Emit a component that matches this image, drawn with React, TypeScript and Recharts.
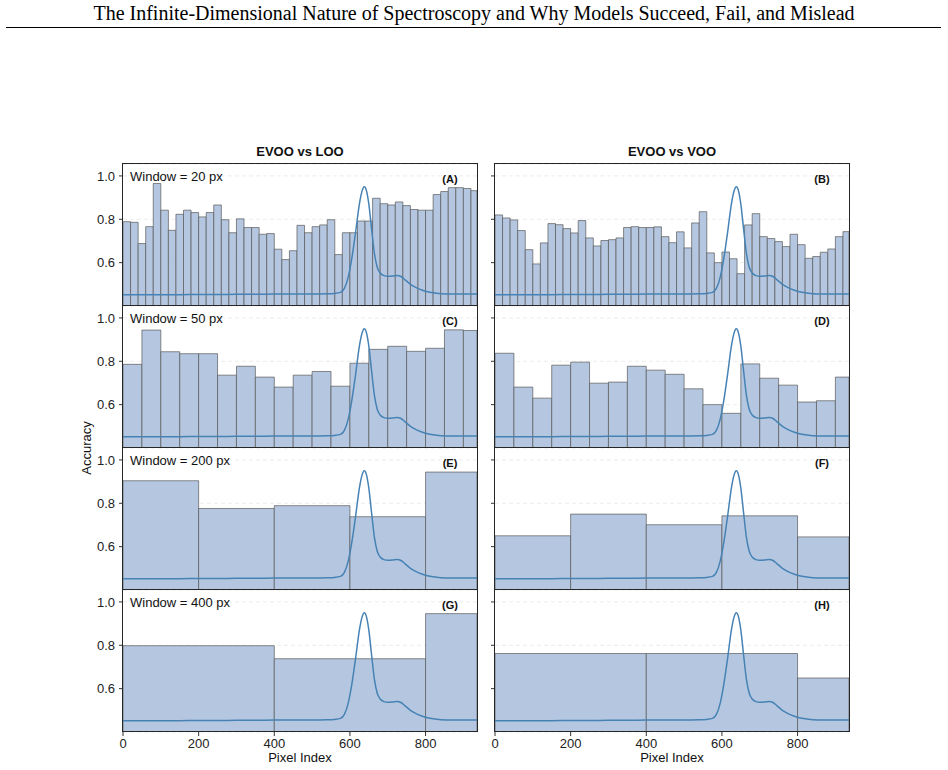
import React from 'react';
import { ComposedChart, Line, XAxis, YAxis, CartesianGrid, ReferenceArea } from 'recharts';

// detector width in pixels and the window sizes compared row by row
const PIXEL_COUNT = 936;
const windowSizes = [20, 50, 200, 400];
const comparisons = ['EVOO vs LOO', 'EVOO vs VOO'];
const panelLetters = [['A', 'B'], ['C', 'D'], ['E', 'F'], ['G', 'H']];
const xTicks = [0, 200, 400, 600, 800];
const yTicks = [0.6, 0.8, 1.0];
const Y_DOMAIN: [number, number] = [0.4, 1.055];

// windowed classification accuracy, EVOO vs LOO
const looWin20 = [
  0.789, 0.786, 0.688, 0.766, 0.965, 0.842, 0.749, 0.823, 0.842, 0.831,
  0.811, 0.831, 0.866, 0.798, 0.738, 0.802, 0.762, 0.762, 0.731, 0.734,
  0.662, 0.614, 0.655, 0.772, 0.738, 0.766, 0.774, 0.798, 0.637, 0.738,
  0.738, 0.792, 0.792, 0.897, 0.872, 0.866, 0.880, 0.863, 0.845, 0.842,
  0.842, 0.914, 0.928, 0.946, 0.946, 0.942, 0.932,
];
const looWin50 = [
  0.786, 0.944, 0.844, 0.835, 0.835, 0.736, 0.777, 0.727, 0.681, 0.736,
  0.753, 0.685, 0.791, 0.855, 0.869, 0.846, 0.860, 0.945, 0.942,
];
const looWin200 = [0.904, 0.776, 0.789, 0.738, 0.944];
const looWin400 = [0.798, 0.738, 0.946];

// windowed classification accuracy, EVOO vs VOO
const vooWin20 = [
  0.820, 0.806, 0.797, 0.748, 0.660, 0.594, 0.691, 0.780, 0.775, 0.757,
  0.737, 0.794, 0.714, 0.677, 0.702, 0.706, 0.714, 0.762, 0.766, 0.762,
  0.762, 0.765, 0.720, 0.692, 0.742, 0.668, 0.783, 0.835, 0.645, 0.600,
  0.649, 0.618, 0.549, 0.774, 0.826, 0.720, 0.711, 0.697, 0.674, 0.731,
  0.683, 0.620, 0.628, 0.648, 0.663, 0.720, 0.743,
];
const vooWin50 = [
  0.837, 0.681, 0.630, 0.782, 0.796, 0.699, 0.704, 0.777, 0.759, 0.740,
  0.673, 0.600, 0.560, 0.788, 0.722, 0.690, 0.612, 0.618, 0.727,
];
const vooWin200 = [0.650, 0.750, 0.701, 0.742, 0.645];
const vooWin400 = [0.762, 0.762, 0.649];

// mean spectrum, rescaled onto the accuracy axis
const spectrumPixel = [
  0, 50, 100, 150, 200, 250, 300, 350, 400, 450, 500, 540, 560, 575, 585,
  595, 605, 615, 625, 632, 638, 644, 650, 657, 665, 672, 680, 690, 700, 712,
  725, 735, 745, 760, 775, 790, 805, 820, 840, 870, 900, 936,
];
const spectrumIntensity = [
  0.452, 0.452, 0.452, 0.452, 0.453, 0.453, 0.454, 0.454, 0.455, 0.455, 0.455, 0.456, 0.458, 0.463, 0.480,
  0.530, 0.620, 0.740, 0.870, 0.930, 0.950, 0.930, 0.870, 0.760, 0.640, 0.580, 0.552, 0.540, 0.537, 0.538,
  0.541, 0.536, 0.522, 0.500, 0.485, 0.474, 0.466, 0.461, 0.457, 0.455, 0.455, 0.455,
];

const accuracyGrid = [
  [looWin20, vooWin20],
  [looWin50, vooWin50],
  [looWin200, vooWin200],
  [looWin400, vooWin400],
];

const spectrum = spectrumPixel.map((px, i) => ({ px, value: spectrumIntensity[i] }));

const FONT = '"Liberation Sans", Arial, Helvetica, sans-serif';
const PLOT_W = 354;
const PLOT_H = 142;
const colLeft = [123, 495];
const rowTop = [164, 306, 448, 590];
const Y_AXIS_W = 50;
const TOP_PAD = 4;

interface PanelProps {
  accuracy: number[];
  windowSize: number;
  letter: string;
  row: number;
  col: number;
}

const Panel: React.FC<PanelProps> = ({ accuracy, windowSize, letter, row, col }) => {
  const bottomRow = row === rowTop.length - 1;
  const left = colLeft[col];
  const top = rowTop[row];
  const height = TOP_PAD + PLOT_H + (bottomRow ? 30 : 0);
  const tickStyle = { fill: '#222', fontSize: 13, fontFamily: FONT };

  return (
    <>
      <div style={{ position: 'absolute', left: left - Y_AXIS_W, top: top - TOP_PAD }}>
        <ComposedChart
          width={Y_AXIS_W + PLOT_W + 4}
          height={height}
          data={spectrum}
          margin={{ top: TOP_PAD, right: 4, left: 0, bottom: 0 }}
        >
          <CartesianGrid vertical={false} stroke="#ececec" strokeDasharray="4 3" />
          <XAxis
            dataKey="px"
            type="number"
            domain={[0, PIXEL_COUNT]}
            ticks={xTicks}
            allowDataOverflow
            hide={!bottomRow}
            height={30}
            axisLine={false}
            tickLine={{ stroke: '#333' }}
            tickSize={4}
            tickMargin={3}
            tick={tickStyle}
          />
          <YAxis
            type="number"
            domain={Y_DOMAIN}
            ticks={yTicks}
            allowDataOverflow
            width={Y_AXIS_W}
            axisLine={false}
            tickLine={{ stroke: '#333' }}
            tickSize={4}
            tickMargin={4}
            tick={tickStyle}
            tickFormatter={(v: number) => (col === 0 ? v.toFixed(1) : '')}
          />
          {/* bars start at zero, clipped to the plot like the axes do */}
          {accuracy.map((acc, i) => (
            <ReferenceArea
              key={`win-${i}`}
              x1={i * windowSize}
              x2={Math.min((i + 1) * windowSize, PIXEL_COUNT)}
              y1={0}
              y2={acc}
              ifOverflow="hidden"
              fill="#b5c7e0"
              fillOpacity={1}
              stroke="#555"
              strokeOpacity={0.85}
              strokeWidth={0.8}
            />
          ))}
          <Line
            dataKey="value"
            type="monotone"
            stroke="#4682b4"
            strokeWidth={1.5}
            dot={false}
            isAnimationActive={false}
          />
        </ComposedChart>
      </div>
      {/* panel frame; neighbouring rows share one edge */}
      <div
        style={{
          position: 'absolute',
          left: left - 1,
          top: top - 1,
          width: PLOT_W + 2,
          height: PLOT_H + 1,
          boxSizing: 'border-box',
          border: '1px solid #262626',
          pointerEvents: 'none',
        }}
      />
      {col === 0 && (
        <div style={{ position: 'absolute', left: left + 7, top: top + 5, fontSize: 13, fontFamily: FONT, color: '#111', lineHeight: '16px' }}>
          {`Window = ${windowSize} px`}
        </div>
      )}
      <div
        style={{
          position: 'absolute',
          left: left + PLOT_W - 47,
          width: 40,
          textAlign: 'center',
          top: top + 8,
          fontSize: 11,
          fontWeight: 'bold',
          fontFamily: FONT,
          color: '#111',
          lineHeight: '14px',
        }}
      >
        {`(${letter})`}
      </div>
    </>
  );
};

const App: React.FC = () => {
  return (
    <div style={{ position: 'absolute', left: 0, top: 0, width: 948, height: 770, background: '#fff', overflow: 'hidden' }}>
      <div
        style={{
          position: 'absolute',
          left: 0,
          width: 948,
          top: 1,
          textAlign: 'center',
          fontFamily: '"Liberation Serif", "Times New Roman", serif',
          fontSize: 20,
          lineHeight: '24px',
          color: '#000',
          whiteSpace: 'nowrap',
        }}
      >
        The Infinite-Dimensional Nature of Spectroscopy and Why Models Succeed, Fail, and Mislead
      </div>
      <div style={{ position: 'absolute', left: 6, top: 27, width: 935, height: 1, background: '#000' }} />

      {comparisons.map((name, col) => (
        <div
          key={name}
          style={{
            position: 'absolute',
            left: colLeft[col],
            width: PLOT_W,
            top: 144,
            textAlign: 'center',
            fontFamily: FONT,
            fontWeight: 'bold',
            fontSize: 13,
            lineHeight: '16px',
            color: '#111',
          }}
        >
          {name}
        </div>
      ))}

      {accuracyGrid.map((rowData, row) =>
        rowData.map((acc, col) => (
          <Panel
            key={`${row}-${col}`}
            accuracy={acc}
            windowSize={windowSizes[row]}
            letter={panelLetters[row][col]}
            row={row}
            col={col}
          />
        ))
      )}

      {comparisons.map((name, col) => (
        <div
          key={`xl-${name}`}
          style={{
            position: 'absolute',
            left: colLeft[col],
            width: PLOT_W,
            top: 750,
            textAlign: 'center',
            fontFamily: FONT,
            fontSize: 13,
            lineHeight: '16px',
            color: '#111',
          }}
        >
          Pixel Index
        </div>
      ))}

      <div
        style={{
          position: 'absolute',
          left: 87 - 40,
          top: 448 - 8,
          width: 80,
          textAlign: 'center',
          transform: 'rotate(-90deg)',
          fontFamily: FONT,
          fontSize: 13,
          lineHeight: '16px',
          color: '#111',
        }}
      >
        Accuracy
      </div>
    </div>
  );
};

export default App;
